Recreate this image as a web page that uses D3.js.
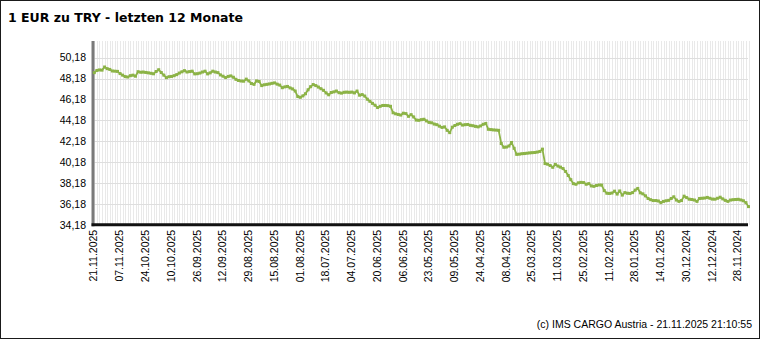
<!DOCTYPE html>
<html>
<head>
<meta charset="utf-8">
<script src="https://cdn.jsdelivr.net/npm/d3@7/dist/d3.min.js"></script>
<style>
  html, body { margin: 0; padding: 0; background: #fff; }
  svg { display: block; }
</style>
</head>
<body>
<svg id="chart" width="760" height="339"></svg>
<script>
// EUR/TRY daily closing rates, newest first (21.11.2025 back to 22.11.2024)
const rates = [
  48.74, 48.95, 49.00, 48.98, 49.28, 49.12, 49.05, 48.90, 48.88, 48.86,
  48.65, 48.50, 48.36, 48.32, 48.45, 48.50, 48.40, 48.83, 48.78, 48.80,
  48.76, 48.72, 48.68, 48.63, 48.85, 49.02, 48.75, 48.50, 48.26, 48.35,
  48.38, 48.45, 48.55, 48.70, 48.82, 48.93, 48.80, 48.84, 48.88, 48.62,
  48.64, 48.70, 48.80, 48.88, 48.62, 48.72, 48.88, 48.80, 48.74, 48.52,
  48.40, 48.27, 48.38, 48.43, 48.30, 48.10, 47.99, 47.94, 47.92, 48.12,
  47.95, 47.70, 47.62, 47.95, 47.90, 47.50, 47.58, 47.62, 47.66, 47.72,
  47.76, 47.64, 47.55, 47.30, 47.38, 47.42, 47.28, 47.18, 46.98, 46.45,
  46.38, 46.52, 46.72, 47.10, 47.40, 47.60, 47.50, 47.36, 47.20, 47.05,
  46.80, 46.62, 46.84, 46.90, 46.98, 46.82, 46.78, 46.86, 46.88, 46.86,
  46.88, 46.80, 46.98, 46.58, 46.64, 46.50, 46.20, 46.00, 45.80, 45.62,
  45.40, 45.52, 45.60, 45.60, 45.58, 45.52, 44.90, 44.80, 44.74, 44.68,
  44.86, 44.82, 44.56, 44.72, 44.50, 44.20, 44.18, 44.24, 44.28, 44.12,
  43.98, 43.94, 43.82, 43.76, 43.62, 43.50, 43.55, 43.22, 43.00, 43.52,
  43.68, 43.80, 43.86, 43.72, 43.76, 43.78, 43.70, 43.66, 43.60, 43.55,
  43.64, 43.80, 43.88, 43.32, 43.29, 43.26, 43.24, 43.22, 41.96, 41.60,
  41.62, 41.72, 42.06, 41.50, 40.92, 40.94, 40.98, 41.00, 41.03, 41.06,
  41.08, 41.10, 41.14, 41.20, 41.42, 40.04, 39.98, 39.85, 39.68, 39.96,
  39.80, 39.70, 39.56, 39.28, 38.90, 38.50, 38.12, 38.06, 38.20, 38.24,
  38.22, 38.06, 38.12, 37.90, 37.86, 37.94, 37.99, 37.98, 37.45, 37.20,
  37.18, 37.22, 37.40, 37.12, 37.42, 37.02, 37.26, 37.20, 37.18, 37.26,
  37.50, 37.66, 37.24, 37.14, 36.95, 36.70, 36.58, 36.50, 36.50, 36.46,
  36.30, 36.42, 36.48, 36.52, 36.70, 36.86, 36.55, 36.42, 36.50, 36.92,
  36.78, 36.63, 36.60, 36.55, 36.42, 36.70, 36.72, 36.74, 36.80, 36.72,
  36.64, 36.63, 36.72, 36.82, 36.66, 36.52, 36.42, 36.55, 36.58, 36.60,
  36.62, 36.56, 36.48, 36.30, 35.92
];

// Date shown under every 10th trading day
const dateLabels = [
  "21.11.2025", "07.11.2025", "24.10.2025", "10.10.2025", "26.09.2025",
  "12.09.2025", "29.08.2025", "15.08.2025", "01.08.2025", "18.07.2025",
  "04.07.2025", "20.06.2025", "06.06.2025", "23.05.2025", "09.05.2025",
  "24.04.2025", "08.04.2025", "25.03.2025", "11.03.2025", "25.02.2025",
  "11.02.2025", "28.01.2025", "14.01.2025", "30.12.2024", "12.12.2024",
  "28.11.2024"
];
const labelStep = 10;

const yTicks = [34.18, 36.18, 38.18, 40.18, 42.18, 44.18, 46.18, 48.18, 50.18];

const titleText = "1 EUR zu TRY - letzten 12 Monate";
const footerText = "(c) IMS CARGO Austria - 21.11.2025 21:10:55";

const W = 760, H = 339;
const plot = { left: 93, right: 748, top: 41, bottom: 224.8 };
const lineColor = "#8cb347";

const svg = d3.select("#chart");

svg.append("rect")
  .attr("x", 0.5).attr("y", 0.5)
  .attr("width", W - 1).attr("height", H - 1)
  .attr("fill", "#fff").attr("stroke", "#1a1a1a");

const x = d3.scaleLinear()
  .domain([0, rates.length - 1])
  .range([94.3, 748.5]);

const y = d3.scaleLinear()
  .domain([34.18, 50.18])
  .range([224.8, 57.6]);

// vertical grid: one faint line per trading day
svg.append("g")
  .selectAll("line")
  .data(d3.range(rates.length))
  .join("line")
  .attr("x1", i => Math.round(x(i)) + 0.5)
  .attr("x2", i => Math.round(x(i)) + 0.5)
  .attr("y1", plot.top)
  .attr("y2", plot.bottom)
  .attr("stroke", "#e9e9e9")
  .attr("stroke-width", 1)
  .attr("shape-rendering", "crispEdges");

// horizontal grid at each value tick
svg.append("g")
  .selectAll("line")
  .data(yTicks)
  .join("line")
  .attr("x1", plot.left)
  .attr("x2", plot.right)
  .attr("y1", d => Math.round(y(d)) + 0.5)
  .attr("y2", d => Math.round(y(d)) + 0.5)
  .attr("stroke", "#dedede")
  .attr("stroke-width", 1)
  .attr("shape-rendering", "crispEdges");

// y axis labels
const yAxis = d3.axisLeft(y)
  .tickValues(yTicks)
  .tickFormat(d => d.toFixed(2).replace(".", ","))
  .tickSize(0)
  .tickPadding(7);

const gy = svg.append("g")
  .attr("transform", `translate(${plot.left},0)`)
  .call(yAxis);
gy.select(".domain").remove();
gy.selectAll("text")
  .attr("font-family", "'Liberation Sans', Arial, sans-serif")
  .attr("font-size", "10.5px")
  .attr("fill", "#000");

// x axis labels, rotated
const xAxis = d3.axisBottom(x)
  .tickValues(d3.range(0, rates.length, labelStep))
  .tickFormat(i => dateLabels[i / labelStep])
  .tickSize(0);

const gx = svg.append("g")
  .attr("transform", `translate(0,${plot.bottom})`)
  .call(xAxis);
gx.select(".domain").remove();
gx.selectAll("text")
  .attr("font-family", "'Liberation Sans', Arial, sans-serif")
  .attr("font-size", "10.5px")
  .attr("fill", "#000")
  .attr("transform", "rotate(-90)")
  .attr("text-anchor", "end")
  .attr("x", -5)
  .attr("y", -1)
  .attr("dy", "0.35em");

// axis bars
svg.append("line")
  .attr("x1", plot.left).attr("x2", plot.left)
  .attr("y1", plot.top).attr("y2", plot.bottom + 1.5)
  .attr("stroke", "#7a7a7a").attr("stroke-width", 3);

svg.append("line")
  .attr("x1", plot.left - 1.5).attr("x2", plot.right)
  .attr("y1", plot.bottom).attr("y2", plot.bottom)
  .attr("stroke", "#111").attr("stroke-width", 3);

// rate line with point markers
const line = d3.line()
  .x((d, i) => x(i))
  .y(d => y(d));

svg.append("path")
  .datum(rates)
  .attr("d", line)
  .attr("fill", "none")
  .attr("stroke", lineColor)
  .attr("stroke-width", 1.8)
  .attr("stroke-linejoin", "round");

svg.append("g")
  .selectAll("rect")
  .data(rates)
  .join("rect")
  .attr("x", (d, i) => x(i) - 1.5)
  .attr("y", d => y(d) - 1.5)
  .attr("width", 3)
  .attr("height", 3)
  .attr("fill", lineColor);

// title and footer
svg.append("text")
  .attr("x", 8).attr("y", 22)
  .attr("font-family", "'DejaVu Sans', Verdana, sans-serif")
  .attr("font-weight", "bold")
  .attr("font-size", "12.5px")
  .attr("fill", "#000")
  .text(titleText);

svg.append("text")
  .attr("x", 752).attr("y", 328)
  .attr("text-anchor", "end")
  .attr("font-family", "'Liberation Sans', Arial, sans-serif")
  .attr("font-size", "10.5px")
  .attr("fill", "#000")
  .text(footerText);
</script>
</body>
</html>
